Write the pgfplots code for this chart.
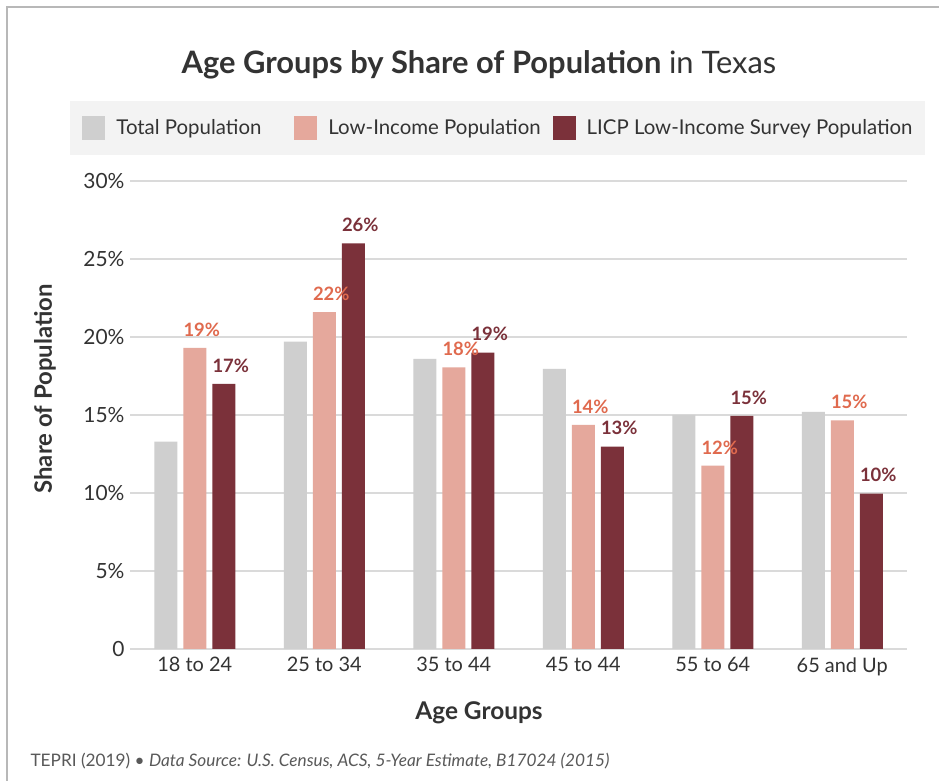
\documentclass[border=0pt]{standalone}
\usepackage{fontspec}
\setmainfont{Lato}
\usepackage{pgfplots}
\pgfplotsset{compat=1.18}
\definecolor{cTot}{HTML}{CFCFCF}
\definecolor{cLow}{HTML}{E5A89C}
\definecolor{cLicp}{HTML}{7B313A}
\definecolor{cLowTxt}{HTML}{E06A4E}
\definecolor{txt}{HTML}{333333}
\definecolor{gridc}{HTML}{DADADA}
\definecolor{legbg}{HTML}{F3F3F3}
\begin{document}
\begin{tikzpicture}
\useasboundingbox (0,0) rectangle (939bp,781bp);
\fill[white] (0,0) rectangle (939bp,781bp);
\draw[line width=2bp, color=black!28] (7bp,0) -- (7bp,774bp) -- (939bp,774bp);
\node[font=\fontsize{31}{36}\selectfont, text=txt] at (479bp,716bp) {\textbf{Age Groups by Share of Population} in Texas};
\fill[legbg] (70bp,626bp) rectangle (925bp,680bp);
\node[font=\fontsize{24.5}{29}\selectfont\bfseries, text=txt] at (479bp,68bp) {Age Groups};
\node[font=\fontsize{24}{29}\selectfont\bfseries, text=txt, rotate=90] at (45bp,392bp) {Share of Population};
\node[anchor=west, font=\fontsize{17.3}{20}\selectfont, text=black!65] at (27bp,20bp) {TEPRI (2019) • \textit{Data Source: U.S. Census, ACS, 5-Year Estimate, B17024 (2015)}};
\begin{axis}[
  at={(130bp,132bp)}, anchor=south west,
  scale only axis, width=777bp, height=468bp,
  ymin=0, ymax=30, xmin=-0.5, xmax=5.5,
  /pgf/number format/assume math mode=true,
  ybar=6bp, bar width=23bp,
  axis line style={draw=none},
  major tick length=0pt,
  ymajorgrids, grid style={gridc, line width=1.5bp},
  ytick={0,5,10,15,20,25,30},
  yticklabels={0,5\%,10\%,15\%,20\%,25\%,30\%},
  yticklabel style={font=\fontsize{21}{24}\selectfont, text=txt, xshift=-2bp},
  xtick={0,1,2,3,4,5},
  xticklabels={18 to 24,25 to 34,35 to 44,45 to 44,55 to 64,65 and Up},
  xticklabel style={font=\fontsize{20}{24}\selectfont, text=txt, yshift=-5bp},
  legend columns=3,
  legend style={at={(0.4755,1.113)}, anchor=center, draw=none, fill=none,
    font=\fontsize{20.5}{24}\selectfont, text=txt,
    /tikz/column 1/.append style={column sep=7bp},
    /tikz/column 2/.append style={column sep=29bp},
    /tikz/column 3/.append style={column sep=7bp},
    /tikz/column 4/.append style={column sep=8bp},
    /tikz/column 5/.append style={column sep=7bp},
    nodes={inner sep=4bp}},
  legend image code/.code={\fill[#1] (0bp,-12bp) rectangle (23bp,12bp);},
  clip=false,
]
\addplot[fill=cTot, draw=none] coordinates {(0,13.3) (1,19.7) (2,18.6) (3,17.95) (4,15.0) (5,15.2)};
\addlegendentry{Total Population}
\addplot[fill=cLow, draw=none,
  nodes near coords={\pgfmathprintnumber[fixed,precision=0]{\pgfplotspointmeta}\%},
  every node near coord/.append style={font=\fontsize{18.5}{22}\selectfont\bfseries, text=cLowTxt, xshift=7bp, yshift=8bp}]
  coordinates {(0,19.3) (1,21.6) (2,18.06) (3,14.36) (4,11.75) (5,14.66)};
\addlegendentry{Low-Income Population}
\addplot[fill=cLicp, draw=none,
  nodes near coords={\pgfmathprintnumber[fixed,precision=0]{\pgfplotspointmeta}\%},
  every node near coord/.append style={font=\fontsize{18.5}{22}\selectfont\bfseries, text=cLicp, xshift=7bp, yshift=8bp}]
  coordinates {(0,17.0) (1,26.0) (2,19.0) (3,12.97) (4,14.94) (5,9.96)};
\addlegendentry{LICP Low-Income Survey Population}
\end{axis}
\end{tikzpicture}
\end{document}
